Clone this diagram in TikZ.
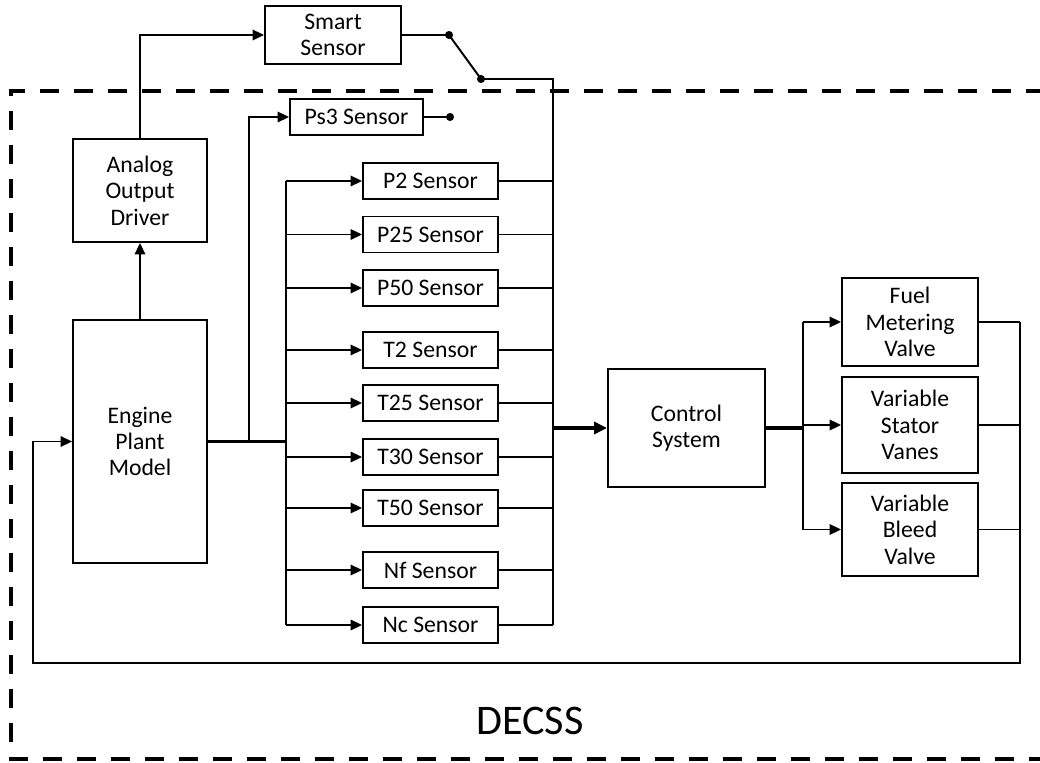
\documentclass[tikz,border=0pt]{standalone}
\usepackage{fontspec}
\setmainfont{Carlito}
\usetikzlibrary{arrows.meta}

\begin{document}
\begin{tikzpicture}[x=0.02cm,y=-0.02cm,
	blocco/.style={draw,line width=1.1pt,align=center,inner sep=1pt,
		font=\fontsize{13.5}{15}\selectfont},
	sensore/.style={blocco,minimum width=2.7cm,minimum height=0.72cm},
	freccia/.style={line width=1.1pt,-{Triangle[length=2.3mm,width=2.1mm]}},
	linea/.style={line width=1.1pt},
	grossa/.style={line width=2pt}]
	\useasboundingbox (0,0) rectangle (1040,763);

	% Riquadro DECSS
	\draw[line width=2.8pt,dash pattern=on 0.38cm off 0.3cm]
	(1045,91) -- (11,91) -- (11,759) -- (1045,759);
	\node[font=\fontsize{24}{28}\selectfont] (decss) at (530,721) {DECSS};

	% Blocchi
	\node[blocco,minimum width=2.72cm,minimum height=1.16cm] (smart) at (333,35) {Smart\\Sensor};
	\node[blocco,minimum width=2.68cm,minimum height=2.06cm] (analog) at (140,190.5) {Analog\\Output\\Driver};
	\node[blocco,minimum width=2.68cm,minimum height=4.86cm] (engine) at (140,441.5) {Engine\\Plant\\Model};
	\node[blocco,minimum width=2.66cm,minimum height=0.72cm] (ps3) at (356.5,117) {Ps3 Sensor};
	\node[blocco,minimum width=3.14cm,minimum height=2.36cm] (control) at (686.5,428) {Control\\System};
	\node[blocco,minimum width=2.72cm,minimum height=1.76cm] (fuel) at (910,322) {Fuel\\Metering\\Valve};
	\node[blocco,minimum width=2.72cm,minimum height=1.92cm] (stator) at (910,425) {Variable\\Stator\\Vanes};
	\node[blocco,minimum width=2.72cm,minimum height=1.86cm] (bleed) at (910,529.5) {Variable\\Bleed\\Valve};

	% Sensori
	\foreach \nome/\testo/\y in {p2/P2/181,p25/P25/234.5,p50/P50/288,t2/T2/350,
		t25/T25/403,t30/T30/457,t50/T50/508,nf/Nf/570,nc/Nc/625}
	\node[sensore] (\nome) at (430.5,\y) {\testo\ Sensor};

	% Punti di appoggio
	\coordinate (split) at (249,441.5);
	\coordinate (bus) at (286,441.5);
	\coordinate (busin) at (553,428);
	\coordinate (busout) at (803,428);
	\coordinate (sw1) at (449,35);
	\coordinate (sw2) at (481,79);
	\coordinate (ps3end) at (450,117);
	\coordinate (ret) at (1020,663);

	% Uscita del modello
	\draw[grossa] (engine.east) -- (bus);
	\draw[linea] (bus |- p2.west) -- (bus |- nc.west);
	\foreach \nome in {p2,p25,p50,t2,t25,t30,t50,nf,nc}
	\draw[freccia] (bus |- \nome.west) -- (\nome.west);
	\draw[freccia] (split) |- (ps3.west);
	\draw[linea] (ps3.east) -- (ps3end);
	\fill (ps3end) circle (2.3pt);

	% Sensore smart
	\draw[freccia] (engine.north) -- (analog.south);
	\draw[freccia] (analog.north) |- (smart.west);
	\draw[linea] (smart.east) -- (sw1) -- (sw2) -| (busin |- nc.east);
	\fill (sw1) circle (2.3pt);
	\fill (sw2) circle (2.3pt);

	% Raccolta sensori
	\foreach \nome in {p2,p25,p50,t2,t25,t30,t50,nf,nc}
	\draw[linea] (\nome.east) -- (busin |- \nome.east);
	\draw[grossa,-{Triangle[length=2.6mm,width=2.4mm]}] (busin) -- (control.west);

	% Attuatori
	\draw[grossa] (control.east) -- (busout);
	\draw[linea] (busout |- fuel.west) -- (busout |- bleed.west);
	\foreach \nome in {fuel,stator,bleed}
	\draw[freccia] (busout |- \nome.west) -- (\nome.west);

	% Retroazione
	\foreach \nome in {fuel,stator,bleed}
	\draw[linea] (\nome.east) -- (ret |- \nome.east);
	\draw[freccia] (ret |- fuel.east) -- (ret) -- (33,663) |- (engine.west);

\end{tikzpicture}
\end{document}
